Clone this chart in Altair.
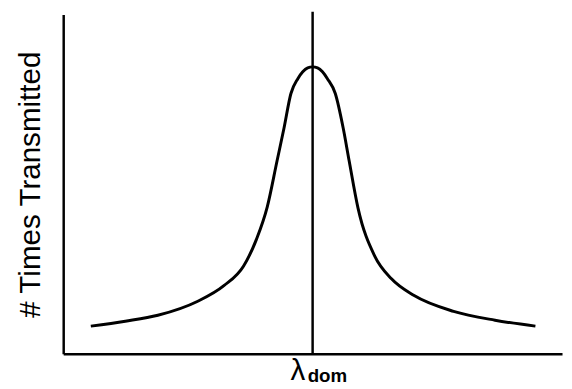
import altair as alt
import pandas as pd

# Curve: offset from the dominant wavelength (px units) and count
offsets = [-225, -190, -157, -117, -90, -70, -57, -46, -36, -29, -22, -15, -10, -5, 0,
           5, 10, 15, 23, 31, 37, 46, 63, 80, 103, 143, 185, 226]
counts = [28, 33, 39, 53, 69, 89, 116, 149, 196, 229, 264, 279, 286, 290, 291,
          290, 286, 279, 264, 229, 196, 148, 99, 76, 59, 43, 34, 28]

peak_offset = [0]
x_domain = [-253, 253]
y_domain = [0, 344]

df = pd.DataFrame({"offset": offsets, "count": counts})
peak = pd.DataFrame({"offset": peak_offset})

x_enc = alt.X("offset:Q", scale=alt.Scale(domain=x_domain, nice=False, zero=False),
              axis=alt.Axis(title=None, labels=False, ticks=False, grid=False))
y_axis = alt.Axis(title="# Times Transmitted", labels=False, ticks=False, grid=False,
                  titleX=-24, titleY=172, titleAngle=270, titleAlign="center",
                  titleBaseline="alphabetic", titleFont="Liberation Sans",
                  titleFontSize=30, titleFontWeight="normal", titleColor="black")

curve = alt.Chart(df).mark_line(color="black", strokeWidth=3, interpolate="monotone").encode(
    x=x_enc,
    y=alt.Y("count:Q", scale=alt.Scale(domain=y_domain, nice=False), axis=y_axis),
)

rule = alt.Chart(peak).mark_rule(color="black", strokeWidth=2.5).encode(
    x=alt.X("offset:Q", scale=alt.Scale(domain=x_domain, nice=False, zero=False)),
    y=alt.value(-3),
    y2=alt.value(344),
)

lam = alt.Chart(peak).mark_text(text="λ", font="Liberation Sans", fontSize=30,
                                color="black", align="center", baseline="alphabetic",
                                dx=-15).encode(
    x=alt.X("offset:Q"),
    y=alt.value(371),
)

sub = alt.Chart(peak).mark_text(text="dom", font="Liberation Sans", fontSize=19,
                                fontWeight="bold", color="black", align="left",
                                baseline="alphabetic", dx=-5).encode(
    x=alt.X("offset:Q"),
    y=alt.value(373),
)

chart = alt.layer(curve, rule, lam, sub).properties(
    width=506, height=344,
    autosize=alt.AutoSizeParams(type="none"),
    padding={"left": 56, "top": 4, "right": 2, "bottom": 30},
    background="white",
).configure_axis(
    domainColor="black", domainWidth=2.5,
).configure_view(stroke=None)

chart.save("out.html", embed_options={"renderer": "svg", "actions": False})
